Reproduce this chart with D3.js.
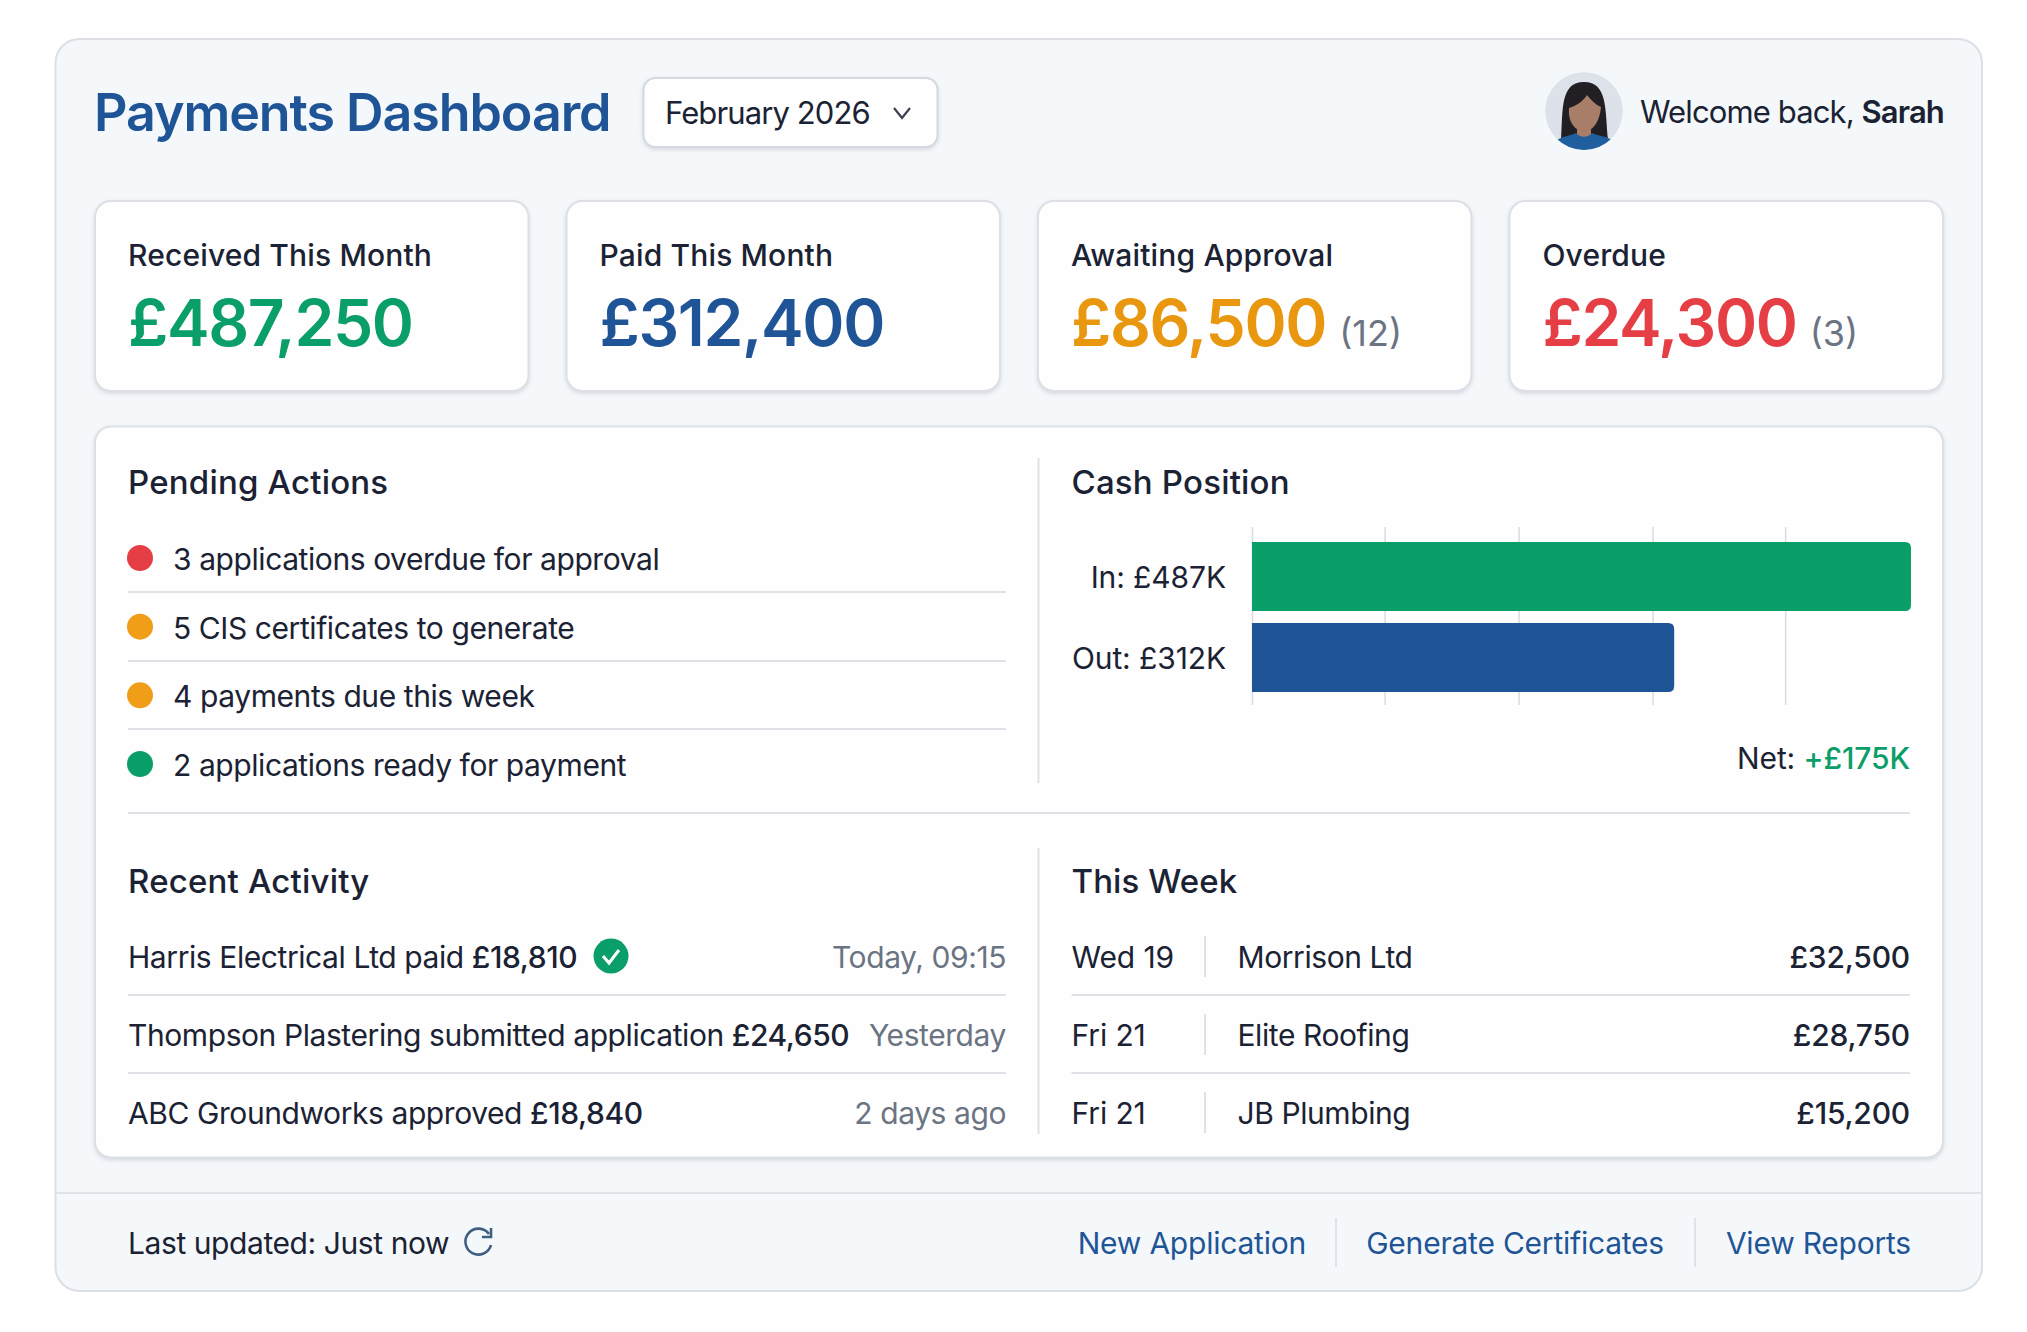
<!DOCTYPE html>
<html>
<head>
<meta charset="utf-8">
<title>Payments Dashboard</title>
<script src="https://cdn.jsdelivr.net/npm/d3@7"></script>
<style>
  html, body { margin: 0; padding: 0; background: #fff; }
  svg { display: block; font-family: Inter, "Noto Sans", sans-serif; }
</style>
</head>
<body>
<svg id="chart" width="2027" height="1332"></svg>
<script>
// data
const kpiLabels = ['Received This Month', 'Paid This Month', 'Awaiting Approval', 'Overdue'];
const kpiValues = ['£487,250', '£312,400', '£86,500', '£24,300'];
const kpiCounts = ['', '', '(12)', '(3)'];
const kpiColors = ['#0a9e68', '#1f5596', '#e8970f', '#e53e45'];

const pendingTexts = [
  '3 applications overdue for approval',
  '5 CIS certificates to generate',
  '4 payments due this week',
  '2 applications ready for payment'
];
const pendingColors = ['#e53e45', '#f09d17', '#f09d17', '#0a9e68'];

const cashLabels = ['In: £487K', 'Out: £312K'];
const cashValues = [487, 312];
const cashColors = ['#0a9e68', '#1f5596'];
const cashTicks = [0, 98, 197, 296, 394];

const activityNames = ['Harris Electrical Ltd paid ', 'Thompson Plastering submitted application ', 'ABC Groundworks approved '];
const activityAmounts = ['£18,810', '£24,650', '£18,840'];
const activityTimes = ['Today, 09:15', 'Yesterday', '2 days ago'];

const weekDays = ['Wed 19', 'Fri 21', 'Fri 21'];
const weekNames = ['Morrison Ltd', 'Elite Roofing', 'JB Plumbing'];
const weekAmounts = ['£32,500', '£28,750', '£15,200'];

const footerLinks = ['New Application', 'Generate Certificates', 'View Reports'];

const ink = '#1a2233';
const grey = '#6b7482';
const blue = '#1f5596';
const rule = '#dfe2e8';
const bodySpacing = -0.42;

const svg = d3.select('#chart');

const defs = svg.append('defs');
const shadow = defs.append('filter').attr('id', 'soft')
  .attr('x', '-5%').attr('y', '-5%').attr('width', '110%').attr('height', '112%');
shadow.append('feDropShadow').attr('dx', 0).attr('dy', 2).attr('stdDeviation', 2)
  .attr('flood-color', '#8f97aa').attr('flood-opacity', 0.3);
defs.append('clipPath').attr('id', 'avatarClip')
  .append('circle').attr('cx', 1584).attr('cy', 111).attr('r', 39);

function text(parent, x, y, str, size, weight, fill, anchor, spacing) {
  return parent.append('text')
    .attr('x', x).attr('y', y)
    .attr('font-size', size).attr('font-weight', weight || 400)
    .attr('fill', fill || ink).attr('text-anchor', anchor || 'start')
    .attr('letter-spacing', spacing === undefined ? bodySpacing : spacing)
    .text(str);
}
function hline(x1, x2, y) {
  svg.append('line').attr('x1', x1).attr('x2', x2).attr('y1', y).attr('y2', y)
    .attr('stroke', rule).attr('stroke-width', 2);
}
function vline(x, y1, y2) {
  svg.append('line').attr('x1', x).attr('x2', x).attr('y1', y1).attr('y2', y2)
    .attr('stroke', rule).attr('stroke-width', 2);
}

//
// outer card and header
//
svg.append('rect').attr('x', 55.5).attr('y', 39).attr('width', 1926.5).attr('height', 1252).attr('rx', 24)
  .attr('fill', '#f5f8fa').attr('stroke', '#dcdfe6').attr('stroke-width', 2);

text(svg, 94, 131, 'Payments Dashboard', 52, 600, blue, 'start', -1.08);

svg.append('rect').attr('x', 643.5).attr('y', 78).attr('width', 294).attr('height', 69).attr('rx', 12)
  .attr('fill', '#fefefe').attr('stroke', '#d5d8e0').attr('stroke-width', 2).attr('filter', 'url(#soft)');
text(svg, 665, 124, 'February 2026', 31, 400, ink, 'start', -0.9);
svg.append('path').attr('d', 'M894 108 L902 118 L910 108').attr('fill', 'none')
  .attr('stroke', '#3a4252').attr('stroke-width', 2.2);

// avatar
const avatar = svg.append('g').attr('clip-path', 'url(#avatarClip)');
avatar.append('circle').attr('cx', 1584).attr('cy', 111).attr('r', 39).attr('fill', '#dde1e9');
avatar.append('path').attr('fill', '#211f24')
  .attr('d', 'M1561 140 C1563 110 1560 82 1584 82 C1608 82 1605 110 1608 140 Z');
avatar.append('path').attr('fill', '#a97e68')
  .attr('d', 'M1569 108 C1577 106 1584 100 1587 95 C1592 101 1596 105 1601 107 C1600 118 1596 126 1591 129 L1591 137 L1577 137 L1577 129 C1572 126 1568 118 1569 108 Z');
avatar.append('path').attr('fill', '#1f5f9e')
  .attr('d', 'M1557 140 C1563 136 1570 136 1576 133 C1580 138 1588 138 1592 133 C1598 136 1606 136 1612 140 L1612 152 L1557 152 Z');
svg.append('text').attr('x', 1640).attr('y', 123).attr('font-size', 31).attr('fill', ink)
  .attr('letter-spacing', -0.88)
  .call(t => {
    t.append('tspan').text('Welcome back, ');
    t.append('tspan').attr('font-weight', 600).text('Sarah');
  });

//
// KPI cards
//
const kpiX = d3.scaleBand().domain(d3.range(kpiLabels.length)).range([95, 1943]).paddingInner(0.0805);
kpiLabels.forEach((label, i) => {
  const x = kpiX(i);
  const g = svg.append('g');
  g.append('rect').attr('x', x).attr('y', 201).attr('width', kpiX.bandwidth()).attr('height', 190).attr('rx', 16)
    .attr('fill', '#fefefe').attr('stroke', '#dcdfe6').attr('stroke-width', 2).attr('filter', 'url(#soft)');
  text(g, x + 33, 266, label, 30, 500, ink, 'start', 0.15);
  const v = text(g, x + 33, 346, kpiValues[i], 64, 600, kpiColors[i], 'start', -1.35);
  if (kpiCounts[i]) {
    text(g, x + 33 + v.node().getComputedTextLength() + 13, 346, kpiCounts[i], 36, 400, grey, 'start', 0);
  }
});

//
// main panel
//
svg.append('rect').attr('x', 95).attr('y', 426.5).attr('width', 1848).attr('height', 731).attr('rx', 16)
  .attr('fill', '#fefefe').attr('stroke', '#dcdfe6').attr('stroke-width', 2).attr('filter', 'url(#soft)');
vline(1038.5, 458, 783);
vline(1038.5, 848, 1134);
hline(128, 1910, 813);

text(svg, 128, 494, 'Pending Actions', 33, 500, ink, 'start', 0.2);
text(svg, 1071.5, 494, 'Cash Position', 33, 500, ink, 'start', 0.2);
text(svg, 128, 893, 'Recent Activity', 33, 500, ink, 'start', 0.2);
text(svg, 1071.5, 893, 'This Week', 33, 500, ink, 'start', 0.1);

// pending actions
const pendingY = d3.scaleLinear().domain([0, pendingTexts.length - 1]).range([570, 776]);
pendingTexts.forEach((d, i) => {
  const y = pendingY(i);
  svg.append('circle').attr('cx', 140).attr('cy', y - 12).attr('r', 13).attr('fill', pendingColors[i]);
  text(svg, 173, y, d, 30);
  if (i < pendingTexts.length - 1) hline(128, 1006, Math.round(y) + 22);
});

// cash position bars
const cashX = d3.scaleLinear().domain([0, d3.max(cashValues)]).range([1252, 1911]);
const cashY = d3.scaleBand().domain(cashLabels).range([536, 698]).paddingInner(0.148).paddingOuter(0.074);

const grid = svg.append('g').attr('transform', 'translate(0,705)')
  .call(d3.axisBottom(cashX).tickValues(cashTicks).tickSize(-178).tickFormat(''));
grid.select('.domain').remove();
grid.selectAll('.tick line').attr('stroke', '#d8dbe2').attr('stroke-width', 1.5);

const cashAxis = svg.append('g').attr('transform', 'translate(1252,0)')
  .call(d3.axisLeft(cashY).tickSize(0).tickPadding(26));
cashAxis.select('.domain').remove();
cashAxis.selectAll('text').attr('font-size', 30).attr('font-family', 'Inter').attr('fill', ink)
  .attr('dy', '0.39em').attr('letter-spacing', -0.1);

svg.selectAll('.cash-bar').data(cashValues).join('path')
  .attr('class', 'cash-bar')
  .attr('fill', (d, i) => cashColors[i])
  .attr('d', (d, i) => {
    const x0 = cashX(0), x1 = cashX(d), y0 = cashY(cashLabels[i]), h = cashY.bandwidth(), r = 6;
    return `M${x0} ${y0} H${x1 - r} Q${x1} ${y0} ${x1} ${y0 + r} V${y0 + h - r} Q${x1} ${y0 + h} ${x1 - r} ${y0 + h} H${x0} Z`;
  });

svg.append('text').attr('x', 1910).attr('y', 769).attr('font-size', 30).attr('text-anchor', 'end').attr('fill', ink)
  .attr('letter-spacing', -0.1)
  .call(t => {
    t.append('tspan').text('Net: ');
    t.append('tspan').attr('font-weight', 500).attr('fill', '#0a9e68').text('+£175K');
  });

// recent activity and this week rows
const rowY = d3.scaleLinear().domain([0, 2]).range([968, 1124]);
activityNames.forEach((name, i) => {
  const y = rowY(i);
  svg.append('text').attr('x', 128).attr('y', y).attr('font-size', 30).attr('fill', ink)
    .attr('letter-spacing', bodySpacing)
    .call(t => {
      t.append('tspan').text(name);
      t.append('tspan').attr('font-weight', 500).text(activityAmounts[i]);
    });
  text(svg, 1006, y, activityTimes[i], 30, 400, grey, 'end');
  text(svg, 1071.5, y, weekDays[i], 30, 400, ink, 'start', -0.1);
  vline(1205, y - 32, y + 9);
  text(svg, 1237.5, y, weekNames[i], 30);
  text(svg, 1910, y, weekAmounts[i], 30, 500, ink, 'end', -0.2);
  if (i < 2) {
    hline(128, 1006, Math.round(y) + 27);
    hline(1071.5, 1910, Math.round(y) + 27);
  }
});

// tick badge next to the first activity row
svg.append('circle').attr('cx', 611).attr('cy', 956).attr('r', 17.5).attr('fill', '#0a9e68');
svg.append('path').attr('d', 'M603 956 L609 963 L619 950').attr('fill', 'none')
  .attr('stroke', '#fff').attr('stroke-width', 3);

//
// footer
//
hline(55.5, 1982, 1193);
text(svg, 128, 1254, 'Last updated: Just now', 30);
svg.append('path').attr('d', 'M489 1234 A13 13 0 1 0 491 1245').attr('fill', 'none')
  .attr('stroke', '#3f5f80').attr('stroke-width', 2.6);
svg.append('path').attr('d', 'M491 1228 L491 1237 L482 1237').attr('fill', 'none')
  .attr('stroke', '#3f5f80').attr('stroke-width', 2.6);

const linkRight = [1306, 1664, 1911];
footerLinks.forEach((d, i) => {
  text(svg, linkRight[i], 1254, d, 30, 400, blue, 'end', -0.22);
});
vline(1336, 1218, 1267);
vline(1695, 1218, 1267);
</script>
</body>
</html>
